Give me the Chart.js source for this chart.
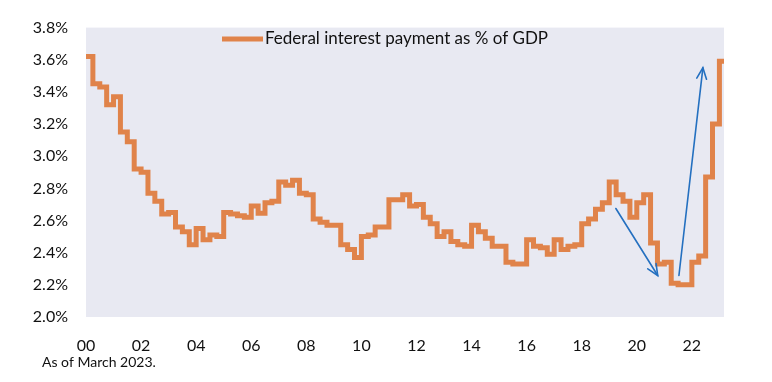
<!DOCTYPE html>
<html>
<head>
<meta charset="utf-8">
<script src="https://cdn.jsdelivr.net/npm/chart.js@4.4.0/dist/chart.umd.min.js"></script>
<style>
  html, body { margin: 0; padding: 0; background: #ffffff; }
  #wrap { position: relative; width: 772px; height: 382px; }
</style>
</head>
<body>
<div id="wrap"><canvas id="c" width="772" height="382"></canvas></div>
<script>
// Quarterly categories (each value holds for the quarter)
const quarters = [
  '2000Q1','2000Q2','2000Q3','2000Q4','2001Q1','2001Q2','2001Q3','2001Q4',
  '2002Q1','2002Q2','2002Q3','2002Q4','2003Q1','2003Q2','2003Q3','2003Q4',
  '2004Q1','2004Q2','2004Q3','2004Q4','2005Q1','2005Q2','2005Q3','2005Q4',
  '2006Q1','2006Q2','2006Q3','2006Q4','2007Q1','2007Q2','2007Q3','2007Q4',
  '2008Q1','2008Q2','2008Q3','2008Q4','2009Q1','2009Q2','2009Q3','2009Q4',
  '2010Q1','2010Q2','2010Q3','2010Q4','2011Q1','2011Q2','2011Q3','2011Q4',
  '2012Q1','2012Q2','2012Q3','2012Q4','2013Q1','2013Q2','2013Q3','2013Q4',
  '2014Q1','2014Q2','2014Q3','2014Q4','2015Q1','2015Q2','2015Q3','2015Q4',
  '2016Q1','2016Q2','2016Q3','2016Q4','2017Q1','2017Q2','2017Q3','2017Q4',
  '2018Q1','2018Q2','2018Q3','2018Q4','2019Q1','2019Q2','2019Q3','2019Q4',
  '2020Q1','2020Q2','2020Q3','2020Q4','2021Q1','2021Q2','2021Q3','2021Q4',
  '2022Q1','2022Q2','2022Q3','2022Q4','2023Q1'
];
// Federal interest payment as % of GDP
const interestPctGdp = [
  3.62, 3.45, 3.43, 3.32,  3.37, 3.15, 3.09, 2.92,
  2.90, 2.77, 2.72, 2.64,  2.65, 2.56, 2.53, 2.45,
  2.55, 2.48, 2.51, 2.50,  2.65, 2.64, 2.63, 2.62,
  2.69, 2.645, 2.71, 2.72, 2.84, 2.82, 2.85, 2.77,
  2.76, 2.61, 2.59, 2.57,  2.57, 2.45, 2.42, 2.37,
  2.50, 2.51, 2.56, 2.56,  2.73, 2.73, 2.76, 2.69,
  2.70, 2.62, 2.58, 2.50,  2.53, 2.47, 2.45, 2.44,
  2.57, 2.53, 2.49, 2.44,  2.44, 2.34, 2.33, 2.33,
  2.48, 2.44, 2.43, 2.39,  2.48, 2.42, 2.44, 2.45,
  2.58, 2.61, 2.67, 2.71,  2.84, 2.76, 2.72, 2.62,
  2.71, 2.76, 2.46, 2.33,  2.34, 2.21, 2.20, 2.20,
  2.34, 2.38, 2.87, 3.20,  3.59
];
const seriesName = 'Federal interest payment as % of GDP';
const footnote = 'As of March 2023.';
const xTickYears = [2000, 2002, 2004, 2006, 2008, 2010, 2012, 2014, 2016, 2018, 2020, 2022];
const yTicks = [2.0, 2.2, 2.4, 2.6, 2.8, 3.0, 3.2, 3.4, 3.6, 3.8];
const dataEnd = 2023 + 2 / 12;   // data through March 2023
// Annotation arrows in data coordinates [year, percent]
const arrows = [
  { from: [2019.24, 2.675], to: [2020.76, 2.258] },
  { from: [2021.53, 2.258], to: [2022.40, 3.55] }
];

const qToYear = q => parseInt(q.slice(0, 4), 10) + (parseInt(q.slice(5), 10) - 1) / 4;
const points = quarters.map((q, i) => ({ x: qToYear(q), y: interestPctGdp[i] }));
points.push({ x: dataEnd, y: interestPctGdp[interestPctGdp.length - 1] });

const FONT = 'Lato, "Open Sans", sans-serif';
const LINE = '#E0834A';
const ARROW = '#2470C0';

const decor = {
  id: 'decor',
  beforeDatasetsDraw(chart) {
    const { ctx, chartArea: a } = chart;
    ctx.save();
    ctx.fillStyle = '#E8E9F2';
    ctx.fillRect(a.left, a.top, a.right - a.left, a.bottom - a.top);
    ctx.restore();
  },
  afterDatasetsDraw(chart) {
    const { ctx, scales: { x, y } } = chart;
    ctx.save();
    // arrows
    ctx.strokeStyle = ARROW;
    ctx.lineWidth = 1.6;
    ctx.lineCap = 'round';
    arrows.forEach(ar => {
      const x1 = x.getPixelForValue(ar.from[0]), y1 = y.getPixelForValue(ar.from[1]);
      const x2 = x.getPixelForValue(ar.to[0]), y2 = y.getPixelForValue(ar.to[1]);
      ctx.beginPath(); ctx.moveTo(x1, y1); ctx.lineTo(x2, y2); ctx.stroke();
      const ang = Math.atan2(y2 - y1, x2 - x1);
      const L = 12, spread = 0.42;
      ctx.beginPath();
      ctx.moveTo(x2 - L * Math.cos(ang - spread), y2 - L * Math.sin(ang - spread));
      ctx.lineTo(x2, y2);
      ctx.lineTo(x2 - L * Math.cos(ang + spread), y2 - L * Math.sin(ang + spread));
      ctx.stroke();
    });
    // legend
    ctx.strokeStyle = LINE;
    ctx.lineWidth = 5;
    ctx.lineCap = 'butt';
    ctx.beginPath(); ctx.moveTo(222, 39); ctx.lineTo(263, 39); ctx.stroke();
    ctx.fillStyle = '#111111';
    ctx.font = '17px ' + FONT;
    ctx.textBaseline = 'middle';
    ctx.textAlign = 'left';
    ctx.fillText(seriesName, 265, 39);
    // footnote
    ctx.font = '14px ' + FONT;
    ctx.fillText(footnote, 42, 362);
    ctx.restore();
  }
};

new Chart(document.getElementById('c'), {
  type: 'line',
  data: {
    datasets: [{
      label: seriesName,
      data: points,
      borderColor: LINE,
      backgroundColor: LINE,
      borderWidth: 5,
      pointRadius: 0,
      stepped: 'before',
      fill: false
    }]
  },
  options: {
    responsive: false,
    animation: false,
    events: [],
    layout: { padding: { top: 21, right: 48, left: 0, bottom: 0 } },
    plugins: { legend: { display: false }, tooltip: { enabled: false } },
    scales: {
      x: {
        type: 'linear',
        min: 2000,
        max: dataEnd,
        grid: { display: false, drawTicks: false },
        border: { display: false },
        afterFit(s) { s.height = 65; },
        afterBuildTicks(s) { s.ticks = xTickYears.map(v => ({ value: v })); },
        ticks: {
          padding: 19,
          color: '#111111',
          font: { family: FONT, size: 16 },
          maxRotation: 0,
          autoSkip: false,
          callback: v => String(v % 100).padStart(2, '0')
        }
      },
      y: {
        min: 2.0,
        max: 3.8,
        grid: { display: false, drawTicks: false },
        border: { display: false },
        afterFit(s) { s.width = 86; },
        afterBuildTicks(s) { s.ticks = yTicks.map(v => ({ value: v })); },
        ticks: {
          padding: 18,
          color: '#111111',
          font: { family: FONT, size: 16 },
          callback: v => v.toFixed(1) + '%'
        }
      }
    }
  },
  plugins: [decor]
});
</script>
</body>
</html>
